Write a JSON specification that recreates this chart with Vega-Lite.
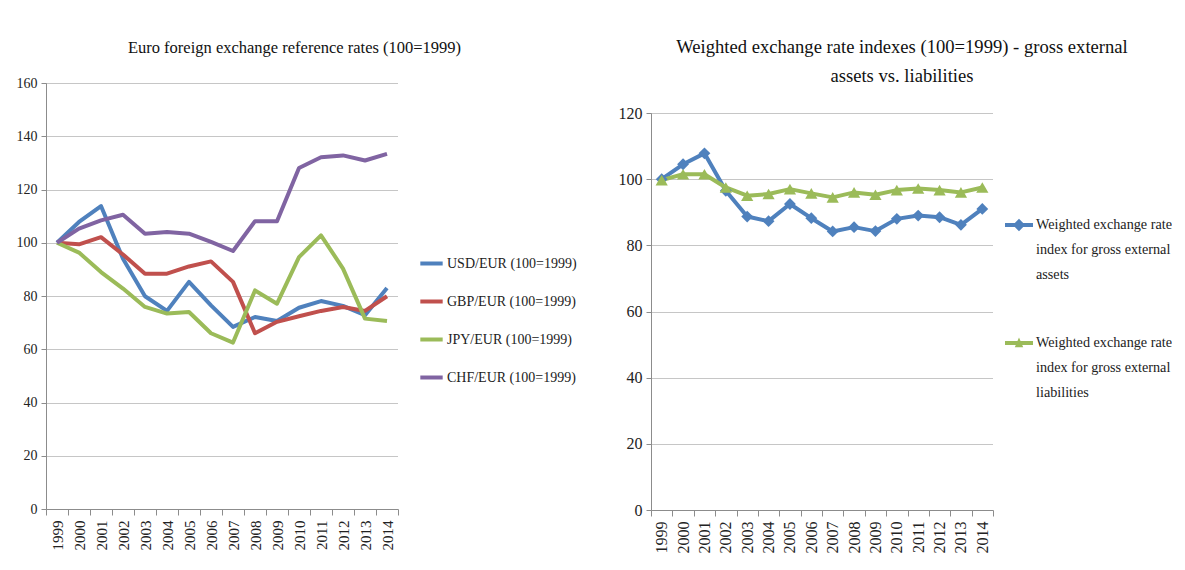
{
  "$schema": "https://vega.github.io/schema/vega-lite/v6.json",
  "background": "white",
  "padding": {"left": 16, "top": 38, "right": 0, "bottom": 0},
  "spacing": 41,
  "datasets": {
    "fx": [
      {"year": "1999", "series": "USD/EUR (100=1999)", "value": 100},
      {"year": "2000", "series": "USD/EUR (100=1999)", "value": 107.8},
      {"year": "2001", "series": "USD/EUR (100=1999)", "value": 113.8},
      {"year": "2002", "series": "USD/EUR (100=1999)", "value": 94},
      {"year": "2003", "series": "USD/EUR (100=1999)", "value": 79.9},
      {"year": "2004", "series": "USD/EUR (100=1999)", "value": 74.4},
      {"year": "2005", "series": "USD/EUR (100=1999)", "value": 85.3},
      {"year": "2006", "series": "USD/EUR (100=1999)", "value": 76.5},
      {"year": "2007", "series": "USD/EUR (100=1999)", "value": 68.4},
      {"year": "2008", "series": "USD/EUR (100=1999)", "value": 72.1},
      {"year": "2009", "series": "USD/EUR (100=1999)", "value": 70.6},
      {"year": "2010", "series": "USD/EUR (100=1999)", "value": 75.6},
      {"year": "2011", "series": "USD/EUR (100=1999)", "value": 78.1},
      {"year": "2012", "series": "USD/EUR (100=1999)", "value": 76.3},
      {"year": "2013", "series": "USD/EUR (100=1999)", "value": 72.8},
      {"year": "2014", "series": "USD/EUR (100=1999)", "value": 83},
      {"year": "1999", "series": "GBP/EUR (100=1999)", "value": 100},
      {"year": "2000", "series": "GBP/EUR (100=1999)", "value": 99.4},
      {"year": "2001", "series": "GBP/EUR (100=1999)", "value": 102.1},
      {"year": "2002", "series": "GBP/EUR (100=1999)", "value": 95.6},
      {"year": "2003", "series": "GBP/EUR (100=1999)", "value": 88.4},
      {"year": "2004", "series": "GBP/EUR (100=1999)", "value": 88.4},
      {"year": "2005", "series": "GBP/EUR (100=1999)", "value": 91.1},
      {"year": "2006", "series": "GBP/EUR (100=1999)", "value": 93},
      {"year": "2007", "series": "GBP/EUR (100=1999)", "value": 85.3},
      {"year": "2008", "series": "GBP/EUR (100=1999)", "value": 66},
      {"year": "2009", "series": "GBP/EUR (100=1999)", "value": 70.3},
      {"year": "2010", "series": "GBP/EUR (100=1999)", "value": 72.4},
      {"year": "2011", "series": "GBP/EUR (100=1999)", "value": 74.4},
      {"year": "2012", "series": "GBP/EUR (100=1999)", "value": 75.9},
      {"year": "2013", "series": "GBP/EUR (100=1999)", "value": 74.4},
      {"year": "2014", "series": "GBP/EUR (100=1999)", "value": 79.9},
      {"year": "1999", "series": "JPY/EUR (100=1999)", "value": 100},
      {"year": "2000", "series": "JPY/EUR (100=1999)", "value": 96.3},
      {"year": "2001", "series": "JPY/EUR (100=1999)", "value": 89},
      {"year": "2002", "series": "JPY/EUR (100=1999)", "value": 82.8},
      {"year": "2003", "series": "JPY/EUR (100=1999)", "value": 75.9},
      {"year": "2004", "series": "JPY/EUR (100=1999)", "value": 73.4},
      {"year": "2005", "series": "JPY/EUR (100=1999)", "value": 74},
      {"year": "2006", "series": "JPY/EUR (100=1999)", "value": 66},
      {"year": "2007", "series": "JPY/EUR (100=1999)", "value": 62.5},
      {"year": "2008", "series": "JPY/EUR (100=1999)", "value": 82.1},
      {"year": "2009", "series": "JPY/EUR (100=1999)", "value": 77.1},
      {"year": "2010", "series": "JPY/EUR (100=1999)", "value": 94.6},
      {"year": "2011", "series": "JPY/EUR (100=1999)", "value": 102.8},
      {"year": "2012", "series": "JPY/EUR (100=1999)", "value": 90.3},
      {"year": "2013", "series": "JPY/EUR (100=1999)", "value": 71.5},
      {"year": "2014", "series": "JPY/EUR (100=1999)", "value": 70.6},
      {"year": "1999", "series": "CHF/EUR (100=1999)", "value": 100},
      {"year": "2000", "series": "CHF/EUR (100=1999)", "value": 105.3},
      {"year": "2001", "series": "CHF/EUR (100=1999)", "value": 108.4},
      {"year": "2002", "series": "CHF/EUR (100=1999)", "value": 110.5},
      {"year": "2003", "series": "CHF/EUR (100=1999)", "value": 103.4},
      {"year": "2004", "series": "CHF/EUR (100=1999)", "value": 104},
      {"year": "2005", "series": "CHF/EUR (100=1999)", "value": 103.4},
      {"year": "2006", "series": "CHF/EUR (100=1999)", "value": 100.3},
      {"year": "2007", "series": "CHF/EUR (100=1999)", "value": 96.9},
      {"year": "2008", "series": "CHF/EUR (100=1999)", "value": 108.1},
      {"year": "2009", "series": "CHF/EUR (100=1999)", "value": 108.1},
      {"year": "2010", "series": "CHF/EUR (100=1999)", "value": 128.1},
      {"year": "2011", "series": "CHF/EUR (100=1999)", "value": 132.1},
      {"year": "2012", "series": "CHF/EUR (100=1999)", "value": 132.8},
      {"year": "2013", "series": "CHF/EUR (100=1999)", "value": 130.9},
      {"year": "2014", "series": "CHF/EUR (100=1999)", "value": 133.4}
    ],
    "wx": [
      {"year": "1999", "series": "assets", "value": 100},
      {"year": "2000", "series": "assets", "value": 104.5},
      {"year": "2001", "series": "assets", "value": 107.8},
      {"year": "2002", "series": "assets", "value": 96.5},
      {"year": "2003", "series": "assets", "value": 88.7},
      {"year": "2004", "series": "assets", "value": 87.3},
      {"year": "2005", "series": "assets", "value": 92.5},
      {"year": "2006", "series": "assets", "value": 88.2},
      {"year": "2007", "series": "assets", "value": 84.2},
      {"year": "2008", "series": "assets", "value": 85.5},
      {"year": "2009", "series": "assets", "value": 84.3},
      {"year": "2010", "series": "assets", "value": 88},
      {"year": "2011", "series": "assets", "value": 89},
      {"year": "2012", "series": "assets", "value": 88.5},
      {"year": "2013", "series": "assets", "value": 86.2},
      {"year": "2014", "series": "assets", "value": 91},
      {"year": "1999", "series": "liabilities", "value": 99.7},
      {"year": "2000", "series": "liabilities", "value": 101.5},
      {"year": "2001", "series": "liabilities", "value": 101.5},
      {"year": "2002", "series": "liabilities", "value": 97.5},
      {"year": "2003", "series": "liabilities", "value": 95},
      {"year": "2004", "series": "liabilities", "value": 95.5},
      {"year": "2005", "series": "liabilities", "value": 97},
      {"year": "2006", "series": "liabilities", "value": 95.7},
      {"year": "2007", "series": "liabilities", "value": 94.5},
      {"year": "2008", "series": "liabilities", "value": 96},
      {"year": "2009", "series": "liabilities", "value": 95.3},
      {"year": "2010", "series": "liabilities", "value": 96.7},
      {"year": "2011", "series": "liabilities", "value": 97.2},
      {"year": "2012", "series": "liabilities", "value": 96.7},
      {"year": "2013", "series": "liabilities", "value": 96},
      {"year": "2014", "series": "liabilities", "value": 97.5}
    ]
  },
  "hconcat": [
    {
      "width": 352,
      "height": 426,
      "title": {"text": "Euro foreign exchange reference rates (100=1999)", "fontSize": 16.5, "fontWeight": "normal", "font": "Liberation Serif", "color": "#111", "offset": 20, "frame": "bounds", "anchor": "middle", "dx": -2},
      "data": {"name": "fx"},
      "mark": {"type": "line", "strokeWidth": 4, "strokeJoin": "round"},
      "encoding": {
        "x": {"field": "year", "type": "ordinal", "scale": {"type": "band", "paddingInner": 0, "paddingOuter": 0},
          "axis": {"title": null, "labelAngle": -90, "tickBand": "extent", "tickSize": 6, "labelPadding": 5, "labelFontSize": 15, "labelFont": "Liberation Serif", "labelColor": "#222", "grid": false}},
        "y": {"field": "value", "type": "quantitative", "scale": {"domain": [0, 160], "nice": false},
          "axis": {"title": null, "values": [0, 20, 40, 60, 80, 100, 120, 140, 160], "grid": true, "tickSize": 5, "labelPadding": 4, "labelFontSize": 14, "labelFont": "Liberation Serif", "labelColor": "#222"}},
        "color": {"field": "series", "type": "nominal",
          "scale": {"domain": ["USD/EUR (100=1999)", "GBP/EUR (100=1999)", "JPY/EUR (100=1999)", "CHF/EUR (100=1999)"], "range": ["#4F81BD", "#C0504D", "#9BBB59", "#8064A2"]},
          "legend": {"title": null, "orient": "none", "legendX": 372, "legendY": 167, "symbolType": "stroke", "symbolSize": 500, "symbolStrokeWidth": 4, "labelFontSize": 14, "labelFont": "Liberation Serif", "labelColor": "#222", "rowPadding": 16, "labelOffset": 2}}
      }
    },
    {
      "width": 342,
      "height": 427,
      "title": {"text": ["Weighted exchange rate indexes (100=1999) - gross external", "assets vs. liabilities"], "fontSize": 18.6, "lineHeight": 29, "fontWeight": "normal", "font": "Liberation Serif", "color": "#111", "offset": -3, "frame": "bounds", "anchor": "middle", "dx": 7},
      "data": {"name": "wx"},
      "encoding": {
        "x": {"field": "year", "type": "ordinal", "scale": {"type": "band", "paddingInner": 0, "paddingOuter": 0},
          "axis": {"title": null, "labelAngle": -90, "tickBand": "extent", "tickSize": 6, "labelPadding": 5, "labelFontSize": 16, "labelFont": "Liberation Serif", "labelColor": "#222", "grid": false}},
        "y": {"field": "value", "type": "quantitative", "scale": {"domain": [0, 120], "nice": false, "range": [427, 30]},
          "axis": {"title": null, "values": [0, 20, 40, 60, 80, 100, 120], "grid": true, "tickSize": 5, "labelPadding": 4, "labelFontSize": 16, "labelFont": "Liberation Serif", "labelColor": "#222"}},
        "color": {"field": "series", "type": "nominal",
          "scale": {"domain": ["assets", "liabilities"], "range": ["#4F81BD", "#9BBB59"]},
          "legend": {"title": null, "orient": "none", "legendX": 354, "legendY": 128, "symbolSize": 784, "labelFontSize": 14.2, "labelFont": "Liberation Serif", "labelColor": "#222", "labelLimit": 300, "rowPadding": 46, "labelOffset": 3, "labelBaseline": "middle",
            "labelExpr": "datum.value == 'assets' ? ['Weighted exchange rate', 'index for gross external', 'assets'] : ['Weighted exchange rate', 'index for gross external', 'liabilities']",
            "encode": {
              "labels": {"update": {"lineHeight": {"value": 25}}},
              "symbols": {"update": {
                "shape": {"signal": "datum.value == 'assets' ? 'M-1,-0.14L-0.3,-0.14L0,-0.45L0.3,-0.14L1,-0.14L1,0.14L0.3,0.14L0,0.45L-0.3,0.14L-1,0.14Z' : 'M-1,-0.14L-0.11,-0.14L0,-0.4L0.11,-0.14L1,-0.14L1,0.14L0.23,0.14L0.3,0.3L-0.3,0.3L-0.23,0.14L-1,0.14Z'"},
                "fill": {"signal": "datum.value == 'assets' ? '#4F81BD' : '#9BBB59'"},
                "fillOpacity": {"value": 1},
                "stroke": {"value": "transparent"},
                "strokeWidth": {"value": 0}
              }}
            }}}
      },
      "layer": [
        {"mark": {"type": "line", "strokeWidth": 4, "strokeJoin": "round"}},
        {"transform": [{"filter": "datum.series == 'assets'"}],
          "mark": {"type": "point", "filled": true, "size": 140, "opacity": 1, "shape": "diamond"}},
        {"transform": [{"filter": "datum.series == 'liabilities'"}],
          "mark": {"type": "point", "filled": true, "size": 150, "opacity": 1, "shape": "triangle-up"}}
      ]
    }
  ],
  "resolve": {"scale": {"x": "independent", "y": "independent", "color": "independent"}, "legend": {"color": "independent"}},
  "config": {
    "font": "Liberation Serif",
    "view": {"stroke": null},
    "legend": {"labelFont": "Liberation Serif"},
    "axis": {"labelFont": "Liberation Serif", "labelColor": "#222", "domainColor": "#8c8c8c", "tickColor": "#8c8c8c", "gridColor": "#8c8c8c", "gridDash": [1, 1], "gridWidth": 1}
  }
}
